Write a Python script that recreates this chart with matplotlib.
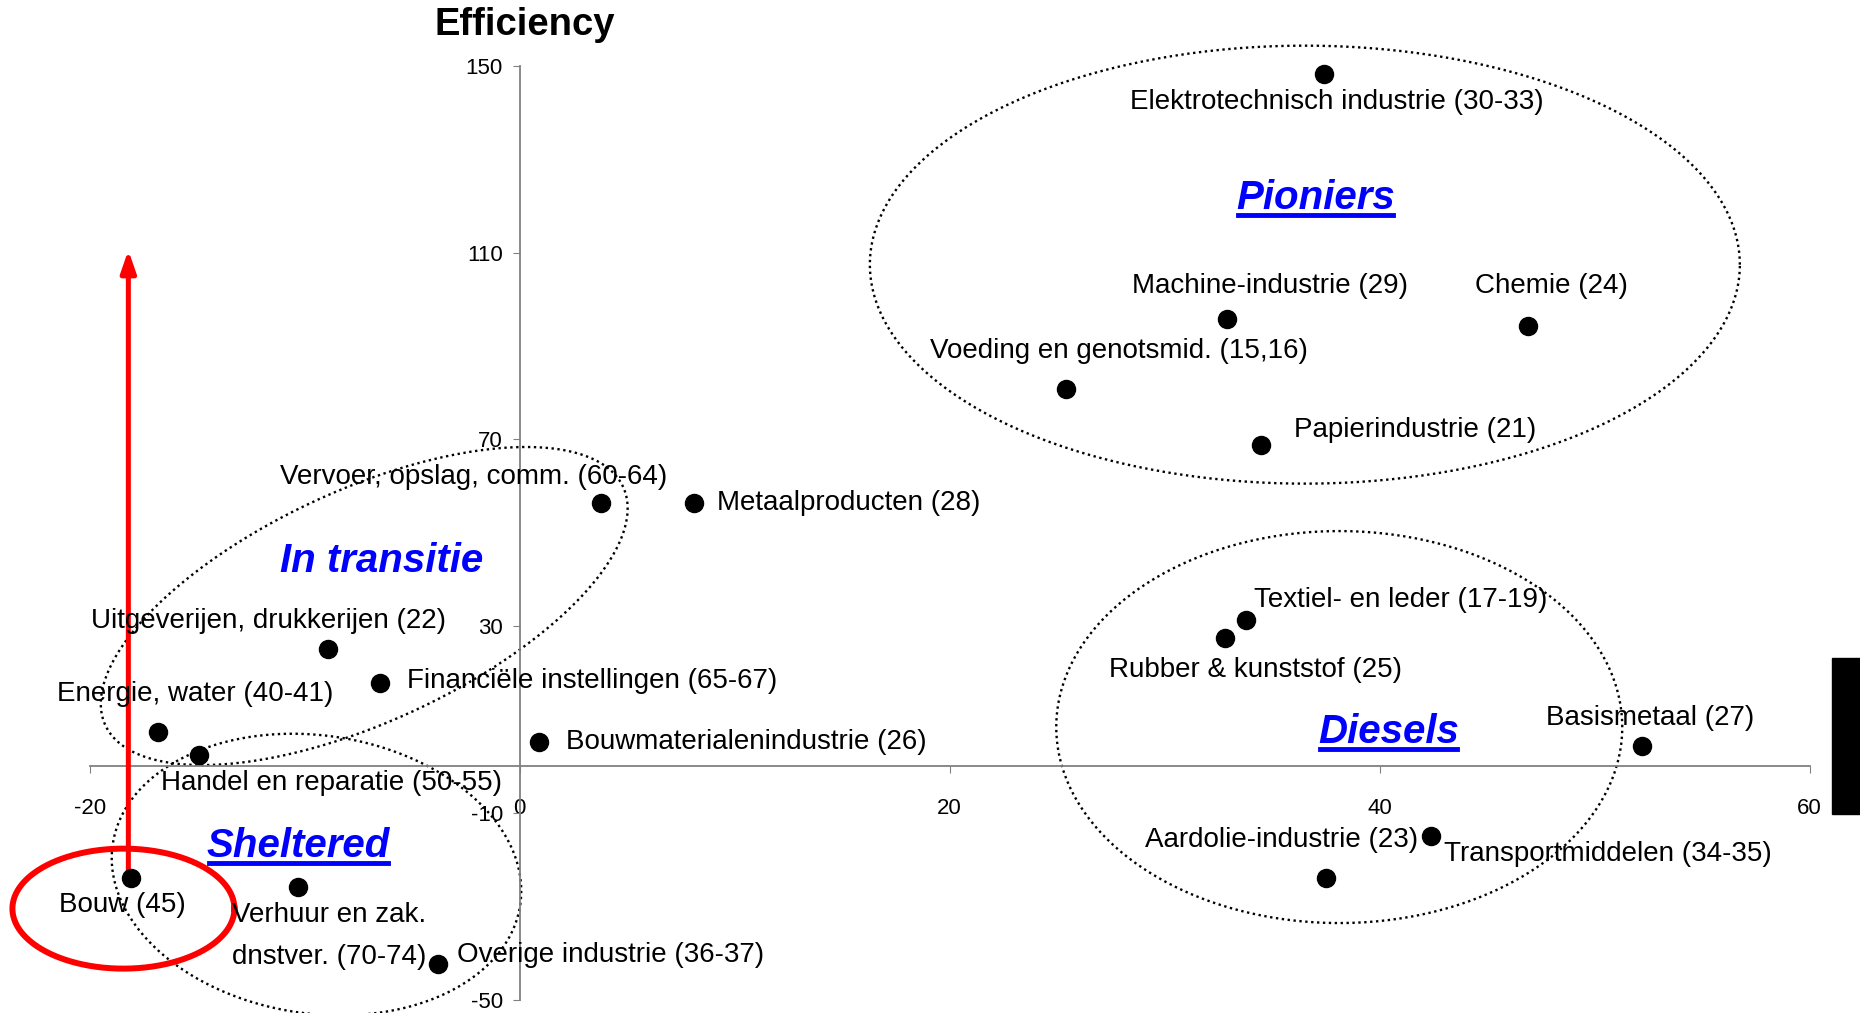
import numpy as np
import matplotlib.pyplot as plt
from matplotlib.lines import Line2D
from matplotlib.patches import Rectangle
from matplotlib.transforms import IdentityTransform

plt.rcParams['font.family'] = ['Liberation Sans', 'DejaVu Sans']
plt.rcParams['axes.unicode_minus'] = False

# sectors and their position (x: growth?, y: efficiency)
sectors = [
    "Elektrotechnisch industrie (30-33)", "Machine-industrie (29)", "Chemie (24)",
    "Voeding en genotsmid. (15,16)", "Papierindustrie (21)", "Vervoer, opslag, comm. (60-64)",
    "Metaalproducten (28)", "Uitgeverijen, drukkerijen (22)", "Financiële instellingen (65-67)",
    "Energie, water (40-41)", "Handel en reparatie (50-55)", "Bouwmaterialenindustrie (26)",
    "Textiel- en leder (17-19)", "Rubber & kunststof (25)", "Basismetaal (27)",
    "Aardolie-industrie (23)", "Transportmiddelen (34-35)", "Bouw (45)",
    "Verhuur en zak.\ndnstver. (70-74)", "Overige industrie (36-37)",
]
x_vals = [37.4, 32.9, 46.9, 25.4, 34.5, 3.8, 8.1, -8.9, -6.5, -16.8,
          -14.9, 0.9, 33.8, 32.8, 52.2, 37.5, 42.4, -18.1, -10.3, -3.8]
y_vals = [148.3, 95.7, 94.2, 80.8, 68.8, 56.4, 56.4, 25.1, 17.8, 7.4,
          2.3, 5.1, 31.2, 27.4, 4.3, -23.9, -15.0, -23.9, -25.9, -42.4]

x_ticks = [-20, 0, 20, 40, 60]
y_ticks = [-50, -10, 30, 70, 110, 150]

groups = ["Pioniers", "In transitie", "Sheltered", "Diesels"]
group_x = [37.0, -6.4, -10.3, 40.4]
group_y = [121.7, 43.9, -17.0, 7.4]
group_underlined = [True, False, True, True]

# label offsets in pixels and alignment
label_offsets = [(13, -28), (43, 33), (23, 40), (53, 38), (33, 15), (66, 26), (23, 0),
                 (-60, 28), (27, 2), (37, 38), (-38, -28), (27, 0), (8, 20), (31, -32),
                 (8, 28), (92, 38), (13, -18), (-8, -27), (-66, -49), (19, 9)]
label_ha = ['center', 'center', 'center', 'center', 'left', 'right', 'left',
            'center', 'left', 'center', 'left', 'left', 'left', 'center',
            'center', 'right', 'left', 'center', 'left', 'left']

W, H = 1860, 1013
fig = plt.figure(figsize=(W / 100, H / 100), dpi=100)
ax = fig.add_axes([0, 0, 1, 1])
xmin, xmax = -24.17, 62.34
ymin, ymax = -52.85, 164.07
ax.set_xlim(xmin, xmax)
ax.set_ylim(ymin, ymax)
SX = W / (xmax - xmin)
SY = H / (ymax - ymin)

# axes through the origin
for side in ['top', 'right']:
    ax.spines[side].set_visible(False)
ax.spines['left'].set_position(('data', 0))
ax.spines['bottom'].set_position(('data', 0))
ax.spines['left'].set_bounds(-50, 150)
ax.spines['bottom'].set_bounds(-20, 60)
for side in ['left', 'bottom']:
    ax.spines[side].set_color('#808080')
    ax.spines[side].set_linewidth(1.3)
ax.set_xticks(x_ticks)
ax.set_yticks(y_ticks)
ax.tick_params(axis='both', direction='out', length=5, color='#808080', labelsize=16)
ax.tick_params(axis='x', pad=18)
ax.tick_params(axis='y', pad=7)
ax.patch.set_visible(False)


def draw_ellipse(cx, cy, rx, ry, angle, **kw):
    t = np.linspace(0, 2 * np.pi, 500)
    a = np.deg2rad(angle)
    u, v = rx * np.cos(t), ry * np.sin(t)
    dx = u * np.cos(a) - v * np.sin(a)
    dy = u * np.sin(a) + v * np.cos(a)
    ax.plot(cx + dx / SX, cy + dy / SY, clip_on=False, **kw)


dotted = dict(color='black', lw=1.7, ls=(0, (1, 1.5)))
draw_ellipse(36.52, 107.4, 435, 219, 0, **dotted)
draw_ellipse(38.12, 8.38, 283, 196, 0, **dotted)
draw_ellipse(-7.23, 34.3, 285, 116, 24.7, **dotted)
draw_ellipse(-9.45, -23.2, 206, 139, -8.5, **dotted)

# red highlight around Bouw
draw_ellipse(-18.43, -30.5, 111, 60, 0, color='red', lw=4.3)
ax.annotate('', xy=(-18.2, 110.5), xytext=(-18.2, -22.6),
            arrowprops=dict(arrowstyle='-|>,head_length=1.3,head_width=0.45',
                            color='red', lw=3.6, shrinkA=0, shrinkB=0))

ax.plot(x_vals, y_vals, 'o', color='black', markersize=13, zorder=5)

for name, x, y, off, ha in zip(sectors, x_vals, y_vals, label_offsets, label_ha):
    ax.annotate(name, (x, y), xytext=off, textcoords='offset pixels',
                ha=ha, va='center', fontsize=20, linespacing=1.8)

group_texts = []
for g, gx, gy in zip(groups, group_x, group_y):
    t = ax.text(gx, gy, g, ha='center', va='center', fontsize=29,
                fontweight='bold', fontstyle='italic', color='#0000FF')
    group_texts.append(t)

fig.text(525 / W, 1 - 25 / H, 'Efficiency', ha='center', va='center',
         fontsize=27.5, fontweight='bold')

# black bar cut at the right edge
fig.add_artist(Rectangle((1832 / W, 199 / H), 28 / W, 156 / H,
                         transform=fig.transFigure, color='black'))

fig.canvas.draw()
renderer = fig.canvas.get_renderer()
for t, ul in zip(group_texts, group_underlined):
    if ul:
        bb = t.get_window_extent(renderer)
        fig.add_artist(Line2D([bb.x0 + 2, bb.x1 - 2], [bb.y0 + 2, bb.y0 + 2],
                              transform=IdentityTransform(), color='#0000FF', lw=3.5))

fig.savefig('out.png', dpi=100)
